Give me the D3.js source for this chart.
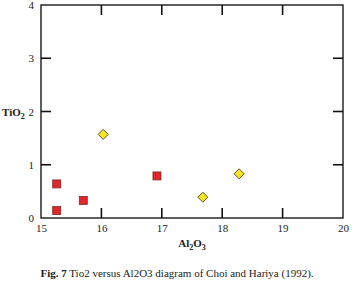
<!DOCTYPE html>
<html>
<head>
<meta charset="utf-8">
<script src="https://cdn.jsdelivr.net/npm/d3@7"></script>
<style>
  body { margin: 0; background: #fff; }
</style>
</head>
<body>
<div id="chart"></div>
<script>
// Choi & Hariya style discrimination plot
const xTicks = [15, 16, 17, 18, 19, 20];
const yTicks = [0, 1, 2, 3, 4];

const squareAl = [15.26, 15.26, 15.70, 16.92];
const squareTi = [0.64, 0.14, 0.33, 0.79];

const diamondAl = [16.03, 17.68, 18.28];
const diamondTi = [1.57, 0.39, 0.83];

(function chart() {
  let width = 352,
      height = 286,
      margin = ({ top: 5, right: 9, bottom: 68, left: 41 });
  const serif = "Liberation Serif";
  const tick = 10, tw = 1.6;

  const svg = d3.select("#chart")
    .append("svg")
    .attr("width", width)
    .attr("height", height)
    .style("display", "block");

  let x = d3.scaleLinear()
    .domain([15, 20])
    .range([margin.left, width - margin.right]);

  let y = d3.scaleLinear()
    .domain([0, 4])
    .range([height - margin.bottom, margin.top]);

  const x0 = x.range()[0], x1 = x.range()[1];
  const y0 = y.range()[0], y1 = y.range()[1];

  // frame
  svg.append("rect")
    .attr("x", x0)
    .attr("y", y1)
    .attr("width", x1 - x0)
    .attr("height", y0 - y1)
    .attr("fill", "none")
    .attr("stroke", "#1a1a1a")
    .attr("stroke-width", 1.4);

  // inward ticks on all four sides, drawn as thin filled bars
  const ticks = svg.append("g").attr("fill", "#111");
  const inner = xTicks.slice(1, -1);
  const innerY = yTicks.slice(1, -1);

  ticks.selectAll(".xb")
    .data(inner)
    .join("rect")
    .attr("class", "xb")
    .attr("x", d => x(d) - tw / 2)
    .attr("y", y0 - tick)
    .attr("width", tw)
    .attr("height", tick);

  ticks.selectAll(".xt")
    .data(inner)
    .join("rect")
    .attr("class", "xt")
    .attr("x", d => x(d) - tw / 2)
    .attr("y", y1)
    .attr("width", tw)
    .attr("height", tick);

  ticks.selectAll(".yl")
    .data(innerY)
    .join("rect")
    .attr("class", "yl")
    .attr("x", x0)
    .attr("y", d => y(d) - tw / 2)
    .attr("width", tick)
    .attr("height", tw);

  ticks.selectAll(".yr")
    .data(innerY)
    .join("rect")
    .attr("class", "yr")
    .attr("x", x1 - tick)
    .attr("y", d => y(d) - tw / 2)
    .attr("width", tick)
    .attr("height", tw);

  // tick labels via d3 axes (domain drawn by the frame)
  function styleAxis(g) {
    g.attr("font-family", serif).attr("font-size", 11);
    g.select(".domain").remove();
    g.selectAll(".tick line").remove();
    g.selectAll(".tick text").attr("fill", "#222");
  }

  svg.append("g")
    .attr("transform", `translate(0,${y0})`)
    .call(d3.axisBottom(x).tickValues(xTicks).tickFormat(d3.format("d")).tickSize(0).tickPadding(6))
    .call(styleAxis);

  svg.append("g")
    .attr("transform", `translate(${x0},0)`)
    .call(d3.axisLeft(y).tickValues(yTicks).tickFormat(d3.format("d")).tickSize(0).tickPadding(7))
    .call(styleAxis);

  const squares = squareAl.map((a, i) => ({ al: a, ti: squareTi[i] }));
  const diamonds = diamondAl.map((a, i) => ({ al: a, ti: diamondTi[i] }));

  svg.append("g")
    .selectAll("rect")
    .data(squares)
    .join("rect")
    .attr("x", d => x(d.al) - 4)
    .attr("y", d => y(d.ti) - 4)
    .attr("width", 8)
    .attr("height", 8)
    .attr("fill", "#e3262a")
    .attr("stroke", "#7a2a2a")
    .attr("stroke-width", 0.8);

  svg.append("g")
    .selectAll("path")
    .data(diamonds)
    .join("path")
    .attr("d", d3.symbol().type(d3.symbolDiamond2).size(64))
    .attr("transform", d => `translate(${x(d.al)},${y(d.ti)})`)
    .attr("fill", "#f7e61e")
    .attr("stroke", "#4a4220")
    .attr("stroke-width", 0.9);

  // axis titles
  const yt = svg.append("text")
    .attr("x", 2)
    .attr("y", y(2) + 4)
    .attr("font-family", serif)
    .attr("font-size", 11)
    .attr("font-weight", "bold")
    .attr("fill", "#222");
  yt.append("tspan").text("TiO");
  yt.append("tspan").attr("font-size", 8).attr("dy", 3).text("2");

  const xt = svg.append("text")
    .attr("x", 192)
    .attr("y", 247)
    .attr("text-anchor", "middle")
    .attr("font-family", serif)
    .attr("font-size", 11)
    .attr("font-weight", "bold")
    .attr("fill", "#222");
  xt.append("tspan").text("Al");
  xt.append("tspan").attr("font-size", 8).attr("dy", 3).text("2");
  xt.append("tspan").attr("dy", -3).text("O");
  xt.append("tspan").attr("font-size", 8).attr("dy", 3).text("3");

  const cap = svg.append("text")
    .attr("x", 177)
    .attr("y", 277)
    .attr("text-anchor", "middle")
    .attr("font-family", serif)
    .attr("font-size", 11)
    .attr("fill", "#222");
  cap.append("tspan").attr("font-weight", "bold").text("Fig. 7");
  cap.append("tspan").text(" Tio2 versus Al2O3 diagram of Choi and Hariya (1992).");
})();
</script>
</body>
</html>
